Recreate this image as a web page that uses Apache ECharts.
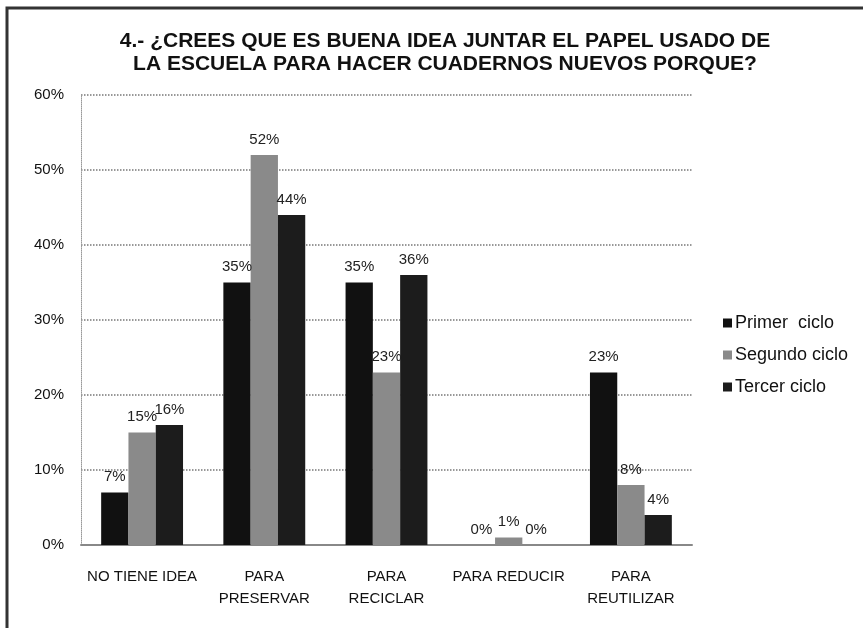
<!DOCTYPE html>
<html>
<head>
<meta charset="utf-8">
<script src="https://cdn.jsdelivr.net/npm/echarts@6/dist/echarts.min.js"></script>
<style>
  html, body { margin: 0; padding: 0; background: #fff; }
  #chart { width: 863px; height: 628px; }
</style>
</head>
<body>
<div id="chart"></div>
<script>
const categories = ['NO TIENE IDEA', 'PARA\nPRESERVAR', 'PARA\nRECICLAR', 'PARA REDUCIR', 'PARA\nREUTILIZAR'];
const seriesNames = ['Primer  ciclo', 'Segundo ciclo', 'Tercer ciclo'];
const primerCiclo = [7, 35, 35, 0, 23];
const segundoCiclo = [15, 52, 23, 1, 8];
const tercerCiclo = [16, 44, 36, 0, 4];
const yTicks = [0, 10, 20, 30, 40, 50, 60];

const colors = ['#111111', '#8a8a8a', '#1c1c1c'];
const labelFont = 'Liberation Sans, sans-serif';

const chart = echarts.init(document.getElementById('chart'));

const makeSeries = (name, data, color) => ({
  name: name,
  type: 'bar',
  data: data,
  barGap: '0%',
  barCategoryGap: '33%',
  itemStyle: { color: color },
  label: {
    show: true,
    position: 'top',
    distance: 8,
    formatter: (p) => p.value + '%',
    color: '#222',
    fontFamily: labelFont,
    fontSize: 15,
  },
});

const option = {
  animation: false,
  backgroundColor: '#fff',
  title: {
    text: '4.- ¿CREES QUE ES BUENA IDEA JUNTAR EL PAPEL USADO DE\nLA ESCUELA PARA HACER CUADERNOS NUEVOS PORQUE?',
    left: 440,
    top: 25,
    textAlign: 'center',
    textStyle: {
      fontFamily: 'Liberation Sans, sans-serif',
      fontSize: 21,
      fontWeight: 'bold',
      color: '#111',
      lineHeight: 23,
    },
  },
  legend: {
    orient: 'vertical',
    left: 718,
    top: 308,
    itemWidth: 9,
    itemHeight: 9,
    itemGap: 12,
    icon: 'rect',
    textStyle: {
      fontFamily: 'Liberation Sans, sans-serif',
      fontSize: 18,
      color: '#111',
      lineHeight: 20,
      padding: [0, 0, 0, -2],
    },
    data: seriesNames,
  },
  grid: {
    left: 81,
    right: 171,
    top: 95,
    bottom: 83,
  },
  xAxis: {
    type: 'category',
    data: categories,
    axisTick: { show: false },
    axisLine: { lineStyle: { color: '#888', width: 2 } },
    axisLabel: {
      interval: 0,
      margin: 21,
      lineHeight: 22,
      fontFamily: labelFont,
      fontSize: 15,
      color: '#111',
      verticalAlign: 'top',
    },
  },
  yAxis: {
    type: 'value',
    min: yTicks[0],
    max: yTicks[yTicks.length - 1],
    interval: 10,
    axisLine: { show: true, lineStyle: { color: '#999', type: 'dotted' } },
    axisTick: { show: false },
    splitLine: { lineStyle: { color: '#777', type: 'dotted', width: 1.5 } },
    axisLabel: {
      margin: 17,
      formatter: (v) => v + '%',
      fontFamily: labelFont,
      fontSize: 15,
      color: '#111',
    },
  },
  graphic: [
    {
      type: 'rect',
      shape: { x: 7, y: 8, width: 870, height: 640 },
      style: { fill: 'none', stroke: '#333', lineWidth: 3 },
      silent: true,
    },
  ],
  series: [
    makeSeries(seriesNames[0], primerCiclo, colors[0]),
    makeSeries(seriesNames[1], segundoCiclo, colors[1]),
    makeSeries(seriesNames[2], tercerCiclo, colors[2]),
  ],
};

chart.setOption(option);
</script>
</body>
</html>
